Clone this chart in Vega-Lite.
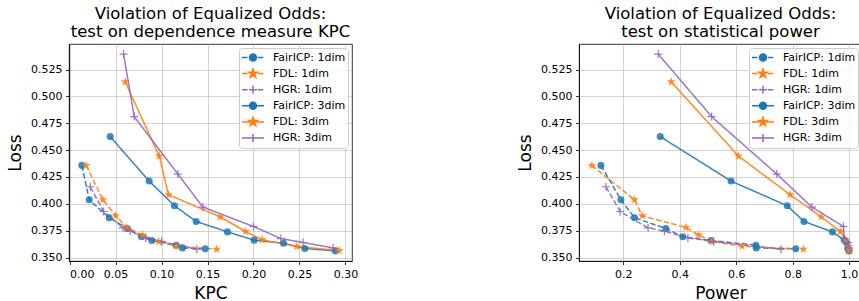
{
  "$schema": "https://vega.github.io/schema/vega-lite/v6.json",
  "padding": {"left": 6, "top": 5, "right": 5, "bottom": 5},
  "bounds": "flush",
  "spacing": 227,
  "datasets": {
    "pts": [
      {"series": "FairICP: 1dim", "method": "FairICP", "dim": "1dim", "loss": 0.4358, "kpc": 0.0134, "power": 0.121},
      {"series": "FairICP: 1dim", "method": "FairICP", "dim": "1dim", "loss": 0.4038, "kpc": 0.0214, "power": 0.192},
      {"series": "FairICP: 1dim", "method": "FairICP", "dim": "1dim", "loss": 0.3870, "kpc": 0.0431, "power": 0.240},
      {"series": "FairICP: 1dim", "method": "FairICP", "dim": "1dim", "loss": 0.3771, "kpc": 0.0627, "power": 0.351},
      {"series": "FairICP: 1dim", "method": "FairICP", "dim": "1dim", "loss": 0.3693, "kpc": 0.0783, "power": 0.411},
      {"series": "FairICP: 1dim", "method": "FairICP", "dim": "1dim", "loss": 0.3659, "kpc": 0.0895, "power": 0.511},
      {"series": "FairICP: 1dim", "method": "FairICP", "dim": "1dim", "loss": 0.3615, "kpc": 0.1159, "power": 0.670},
      {"series": "FairICP: 1dim", "method": "FairICP", "dim": "1dim", "loss": 0.3590, "kpc": 0.1228, "power": 0.671},
      {"series": "FairICP: 1dim", "method": "FairICP", "dim": "1dim", "loss": 0.3581, "kpc": 0.1475, "power": 0.811},
      {"series": "FDL: 1dim", "method": "FDL", "dim": "1dim", "loss": 0.4358, "kpc": 0.0181, "power": 0.089},
      {"series": "FDL: 1dim", "method": "FDL", "dim": "1dim", "loss": 0.4038, "kpc": 0.0362, "power": 0.240},
      {"series": "FDL: 1dim", "method": "FDL", "dim": "1dim", "loss": 0.3889, "kpc": 0.0504, "power": 0.267},
      {"series": "FDL: 1dim", "method": "FDL", "dim": "1dim", "loss": 0.3780, "kpc": 0.0623, "power": 0.422},
      {"series": "FDL: 1dim", "method": "FDL", "dim": "1dim", "loss": 0.3711, "kpc": 0.0793, "power": 0.467},
      {"series": "FDL: 1dim", "method": "FDL", "dim": "1dim", "loss": 0.3649, "kpc": 0.0967, "power": 0.514},
      {"series": "FDL: 1dim", "method": "FDL", "dim": "1dim", "loss": 0.3606, "kpc": 0.1160, "power": 0.621},
      {"series": "FDL: 1dim", "method": "FDL", "dim": "1dim", "loss": 0.3578, "kpc": 0.1600, "power": 0.838},
      {"series": "HGR: 1dim", "method": "HGR", "dim": "1dim", "loss": 0.4159, "kpc": 0.0225, "power": 0.139},
      {"series": "HGR: 1dim", "method": "HGR", "dim": "1dim", "loss": 0.3929, "kpc": 0.0370, "power": 0.189},
      {"series": "HGR: 1dim", "method": "HGR", "dim": "1dim", "loss": 0.3777, "kpc": 0.0580, "power": 0.288},
      {"series": "HGR: 1dim", "method": "HGR", "dim": "1dim", "loss": 0.3746, "kpc": 0.0660, "power": 0.346},
      {"series": "HGR: 1dim", "method": "HGR", "dim": "1dim", "loss": 0.3683, "kpc": 0.0830, "power": 0.429},
      {"series": "HGR: 1dim", "method": "HGR", "dim": "1dim", "loss": 0.3650, "kpc": 0.1000, "power": 0.520},
      {"series": "HGR: 1dim", "method": "HGR", "dim": "1dim", "loss": 0.3578, "kpc": 0.1384, "power": 0.759},
      {"series": "FairICP: 3dim", "method": "FairICP", "dim": "3dim", "loss": 0.4626, "kpc": 0.0442, "power": 0.331},
      {"series": "FairICP: 3dim", "method": "FairICP", "dim": "3dim", "loss": 0.4212, "kpc": 0.0866, "power": 0.582},
      {"series": "FairICP: 3dim", "method": "FairICP", "dim": "3dim", "loss": 0.3982, "kpc": 0.1141, "power": 0.781},
      {"series": "FairICP: 3dim", "method": "FairICP", "dim": "3dim", "loss": 0.3836, "kpc": 0.1377, "power": 0.840},
      {"series": "FairICP: 3dim", "method": "FairICP", "dim": "3dim", "loss": 0.3739, "kpc": 0.1717, "power": 0.941},
      {"series": "FairICP: 3dim", "method": "FairICP", "dim": "3dim", "loss": 0.3662, "kpc": 0.2007, "power": 0.983},
      {"series": "FairICP: 3dim", "method": "FairICP", "dim": "3dim", "loss": 0.3634, "kpc": 0.2326, "power": 0.992},
      {"series": "FairICP: 3dim", "method": "FairICP", "dim": "3dim", "loss": 0.3584, "kpc": 0.2558, "power": 0.995},
      {"series": "FairICP: 3dim", "method": "FairICP", "dim": "3dim", "loss": 0.3562, "kpc": 0.2891, "power": 1.0},
      {"series": "FDL: 3dim", "method": "FDL", "dim": "3dim", "loss": 0.5136, "kpc": 0.0605, "power": 0.370},
      {"series": "FDL: 3dim", "method": "FDL", "dim": "3dim", "loss": 0.4445, "kpc": 0.0975, "power": 0.608},
      {"series": "FDL: 3dim", "method": "FDL", "dim": "3dim", "loss": 0.4085, "kpc": 0.1076, "power": 0.791},
      {"series": "FDL: 3dim", "method": "FDL", "dim": "3dim", "loss": 0.3879, "kpc": 0.1638, "power": 0.901},
      {"series": "FDL: 3dim", "method": "FDL", "dim": "3dim", "loss": 0.3743, "kpc": 0.1913, "power": 0.969},
      {"series": "FDL: 3dim", "method": "FDL", "dim": "3dim", "loss": 0.3665, "kpc": 0.2094, "power": 0.988},
      {"series": "FDL: 3dim", "method": "FDL", "dim": "3dim", "loss": 0.3603, "kpc": 0.2471, "power": 0.998},
      {"series": "FDL: 3dim", "method": "FDL", "dim": "3dim", "loss": 0.3565, "kpc": 0.2931, "power": 1.0},
      {"series": "HGR: 3dim", "method": "HGR", "dim": "3dim", "loss": 0.5394, "kpc": 0.0587, "power": 0.324},
      {"series": "HGR: 3dim", "method": "HGR", "dim": "3dim", "loss": 0.4812, "kpc": 0.0703, "power": 0.513},
      {"series": "HGR: 3dim", "method": "HGR", "dim": "3dim", "loss": 0.4277, "kpc": 0.1178, "power": 0.744},
      {"series": "HGR: 3dim", "method": "HGR", "dim": "3dim", "loss": 0.3970, "kpc": 0.1449, "power": 0.868},
      {"series": "HGR: 3dim", "method": "HGR", "dim": "3dim", "loss": 0.3789, "kpc": 0.2000, "power": 0.980},
      {"series": "HGR: 3dim", "method": "HGR", "dim": "3dim", "loss": 0.3677, "kpc": 0.2297, "power": 0.982},
      {"series": "HGR: 3dim", "method": "HGR", "dim": "3dim", "loss": 0.3640, "kpc": 0.2540, "power": 0.995},
      {"series": "HGR: 3dim", "method": "HGR", "dim": "3dim", "loss": 0.3590, "kpc": 0.2866, "power": 1.0}
    ]
  },
  "data": {"name": "pts"},
  "hconcat": [
    {
      "width": 283,
      "height": 217,
      "title": {"text": ["Violation of Equalized Odds:", "test on dependence measure KPC"]},
      "encoding": {
        "x": {"field": "kpc", "type": "quantitative", "scale": {"domain": [-0.0006, 0.3071], "nice": false, "zero": false}, "axis": {"title": "KPC", "values": [0, 0.05, 0.1, 0.15, 0.2, 0.25, 0.3], "format": ".2f"}},
        "y": {"field": "loss", "type": "quantitative", "scale": {"domain": [0.3468, 0.5488], "nice": false, "zero": false}, "axis": {"title": "Loss", "values": [0.35, 0.375, 0.4, 0.425, 0.45, 0.475, 0.5, 0.525], "format": ".3f"}}
      },
      "layer": [
        {
          "mark": {"type": "line", "strokeWidth": 1.5, "opacity": 0.9},
          "encoding": {
            "color": {"field": "method", "type": "nominal", "scale": {"domain": ["FairICP", "FDL", "HGR"], "range": ["#1f77b4", "#ff7f0e", "#9467bd"]}, "legend": null},
            "strokeDash": {"field": "dim", "type": "nominal", "scale": {"domain": ["1dim", "3dim"], "range": [[5.5, 2.4], [1, 0]]}, "legend": null},
            "order": {"field": "loss", "sort": "descending"}
          }
        },
        {
          "transform": [{"filter": "datum.method == 'FairICP'"}],
          "mark": {"type": "point", "shape": "circle", "filled": true, "size": 50, "opacity": 0.85},
          "encoding": {"color": {"field": "method", "type": "nominal", "legend": null}}
        },
        {
          "transform": [{"filter": "datum.method == 'FDL'"}],
          "mark": {"type": "point", "shape": "M0,-1L0.2245,-0.309L0.951,-0.309L0.363,0.118L0.588,0.809L0,0.382L-0.588,0.809L-0.363,0.118L-0.951,-0.309L-0.2245,-0.309Z", "filled": true, "size": 90, "opacity": 0.9},
          "encoding": {"color": {"field": "method", "type": "nominal", "legend": null}}
        },
        {
          "transform": [{"filter": "datum.method == 'HGR'"}],
          "mark": {"type": "point", "shape": "M-1,0H1M0,-1V1", "filled": false, "size": 64, "strokeWidth": 1.2, "opacity": 0.9},
          "encoding": {"color": {"field": "method", "type": "nominal", "legend": null}}
        },
        {
          "mark": {"type": "point", "filled": true, "opacity": 0},
          "encoding": {
            "fill": {"field": "series", "type": "nominal", "scale": {"domain": ["FairICP: 1dim", "FDL: 1dim", "HGR: 1dim", "FairICP: 3dim", "FDL: 3dim", "HGR: 3dim"], "range": ["#1f77b4", "#ff7f0e", "#9467bd", "#1f77b4", "#ff7f0e", "#9467bd"]}, "legend": {"title": null, "symbolOpacity": 1}},
            "stroke": {"field": "series", "type": "nominal", "scale": {"domain": ["FairICP: 1dim", "FDL: 1dim", "HGR: 1dim", "FairICP: 3dim", "FDL: 3dim", "HGR: 3dim"], "range": ["#1f77b4", "#ff7f0e", "#9467bd", "#1f77b4", "#ff7f0e", "#9467bd"]}, "legend": {"title": null, "symbolOpacity": 1}},
            "shape": {"field": "series", "type": "nominal", "scale": {"domain": ["FairICP: 1dim", "FDL: 1dim", "HGR: 1dim", "FairICP: 3dim", "FDL: 3dim", "HGR: 3dim"], "range": [
              "M-1,0H-0.5M-0.28,0H0.22M0.44,0H0.94M0.32,0A0.32,0.32,0,1,1,-0.32,0A0.32,0.32,0,1,1,0.32,0Z",
              "M-1,0H-0.5M-0.28,0H0.22M0.44,0H0.94M0,-0.41L0.092,-0.127L0.39,-0.127L0.149,0.048L0.241,0.332L0,0.157L-0.241,0.332L-0.149,0.048L-0.39,-0.127L-0.092,-0.127Z",
              "M-1,0H-0.5M-0.28,0H0.22M0.44,0H0.94M-0.36,0H0.36M0,-0.36V0.36",
              "M-1,0H1M0.32,0A0.32,0.32,0,1,1,-0.32,0A0.32,0.32,0,1,1,0.32,0Z",
              "M-1,0H1M0,-0.41L0.092,-0.127L0.39,-0.127L0.149,0.048L0.241,0.332L0,0.157L-0.241,0.332L-0.149,0.048L-0.39,-0.127L-0.092,-0.127Z",
              "M-1,0H1M-0.36,0H0.36M0,-0.36V0.36"
            ]}, "legend": {"title": null, "symbolOpacity": 1}}
          }
        }
      ]
    },
    {
      "width": 283,
      "height": 217,
      "title": {"text": ["Violation of Equalized Odds:", "test on statistical power"]},
      "encoding": {
        "x": {"field": "power", "type": "quantitative", "scale": {"domain": [0.0434, 1.0456], "nice": false, "zero": false}, "axis": {"title": "Power", "values": [0.2, 0.4, 0.6, 0.8, 1.0], "format": ".1f"}},
        "y": {"field": "loss", "type": "quantitative", "scale": {"domain": [0.3468, 0.5488], "nice": false, "zero": false}, "axis": {"title": "Loss", "values": [0.35, 0.375, 0.4, 0.425, 0.45, 0.475, 0.5, 0.525], "format": ".3f"}}
      },
      "layer": [
        {
          "mark": {"type": "line", "strokeWidth": 1.5, "opacity": 0.9},
          "encoding": {
            "color": {"field": "method", "type": "nominal", "scale": {"domain": ["FairICP", "FDL", "HGR"], "range": ["#1f77b4", "#ff7f0e", "#9467bd"]}, "legend": null},
            "strokeDash": {"field": "dim", "type": "nominal", "scale": {"domain": ["1dim", "3dim"], "range": [[5.5, 2.4], [1, 0]]}, "legend": null},
            "order": {"field": "loss", "sort": "descending"}
          }
        },
        {
          "transform": [{"filter": "datum.method == 'FairICP'"}],
          "mark": {"type": "point", "shape": "circle", "filled": true, "size": 50, "opacity": 0.85},
          "encoding": {"color": {"field": "method", "type": "nominal", "legend": null}}
        },
        {
          "transform": [{"filter": "datum.method == 'FDL'"}],
          "mark": {"type": "point", "shape": "M0,-1L0.2245,-0.309L0.951,-0.309L0.363,0.118L0.588,0.809L0,0.382L-0.588,0.809L-0.363,0.118L-0.951,-0.309L-0.2245,-0.309Z", "filled": true, "size": 90, "opacity": 0.9},
          "encoding": {"color": {"field": "method", "type": "nominal", "legend": null}}
        },
        {
          "transform": [{"filter": "datum.method == 'HGR'"}],
          "mark": {"type": "point", "shape": "M-1,0H1M0,-1V1", "filled": false, "size": 64, "strokeWidth": 1.2, "opacity": 0.9},
          "encoding": {"color": {"field": "method", "type": "nominal", "legend": null}}
        },
        {
          "mark": {"type": "point", "filled": true, "opacity": 0},
          "encoding": {
            "fill": {"field": "series", "type": "nominal", "scale": {"domain": ["FairICP: 1dim", "FDL: 1dim", "HGR: 1dim", "FairICP: 3dim", "FDL: 3dim", "HGR: 3dim"], "range": ["#1f77b4", "#ff7f0e", "#9467bd", "#1f77b4", "#ff7f0e", "#9467bd"]}, "legend": {"title": null, "symbolOpacity": 1}},
            "stroke": {"field": "series", "type": "nominal", "scale": {"domain": ["FairICP: 1dim", "FDL: 1dim", "HGR: 1dim", "FairICP: 3dim", "FDL: 3dim", "HGR: 3dim"], "range": ["#1f77b4", "#ff7f0e", "#9467bd", "#1f77b4", "#ff7f0e", "#9467bd"]}, "legend": {"title": null, "symbolOpacity": 1}},
            "shape": {"field": "series", "type": "nominal", "scale": {"domain": ["FairICP: 1dim", "FDL: 1dim", "HGR: 1dim", "FairICP: 3dim", "FDL: 3dim", "HGR: 3dim"], "range": [
              "M-1,0H-0.5M-0.28,0H0.22M0.44,0H0.94M0.32,0A0.32,0.32,0,1,1,-0.32,0A0.32,0.32,0,1,1,0.32,0Z",
              "M-1,0H-0.5M-0.28,0H0.22M0.44,0H0.94M0,-0.41L0.092,-0.127L0.39,-0.127L0.149,0.048L0.241,0.332L0,0.157L-0.241,0.332L-0.149,0.048L-0.39,-0.127L-0.092,-0.127Z",
              "M-1,0H-0.5M-0.28,0H0.22M0.44,0H0.94M-0.36,0H0.36M0,-0.36V0.36",
              "M-1,0H1M0.32,0A0.32,0.32,0,1,1,-0.32,0A0.32,0.32,0,1,1,0.32,0Z",
              "M-1,0H1M0,-0.41L0.092,-0.127L0.39,-0.127L0.149,0.048L0.241,0.332L0,0.157L-0.241,0.332L-0.149,0.048L-0.39,-0.127L-0.092,-0.127Z",
              "M-1,0H1M-0.36,0H0.36M0,-0.36V0.36"
            ]}, "legend": {"title": null, "symbolOpacity": 1}}
          }
        }
      ]
    }
  ],
  "resolve": {
    "scale": {"x": "independent", "color": "independent", "fill": "independent", "stroke": "independent", "shape": "independent", "strokeDash": "independent"},
    "legend": {"fill": "independent", "stroke": "independent", "shape": "independent", "color": "independent", "strokeDash": "independent"}
  },
  "config": {
    "font": "DejaVu Sans",
    "background": "white",
    "view": {"stroke": "black", "strokeWidth": 0.8},
    "title": {"fontSize": 16.5, "fontWeight": "normal", "color": "black", "anchor": "middle", "offset": 4, "lineHeight": 18, "font": "DejaVu Sans"},
    "axis": {
      "labelFontSize": 11, "titleFontSize": 17, "titleFontWeight": "normal",
      "labelColor": "black", "titleColor": "black", "domainColor": "black", "tickColor": "black",
      "domainWidth": 0.8, "tickWidth": 0.8, "tickSize": 3.5,
      "gridColor": "#b0b0b0", "gridWidth": 0.8, "gridOpacity": 0.7,
      "labelPadding": 3.5, "titlePadding": 6, "labelFont": "DejaVu Sans", "titleFont": "DejaVu Sans",
      "labelOverlap": false
    },
    "legend": {
      "orient": "top-right", "offset": 4,
      "labelFontSize": 11, "labelColor": "black", "labelFont": "DejaVu Sans",
      "symbolSize": 484, "symbolStrokeWidth": 1.5,
      "clipHeight": 15, "rowPadding": 1.1, "padding": 2, "labelOffset": 8,
      "strokeColor": "#cccccc", "fillColor": "rgba(255,255,255,0.8)", "cornerRadius": 3
    }
  }
}
